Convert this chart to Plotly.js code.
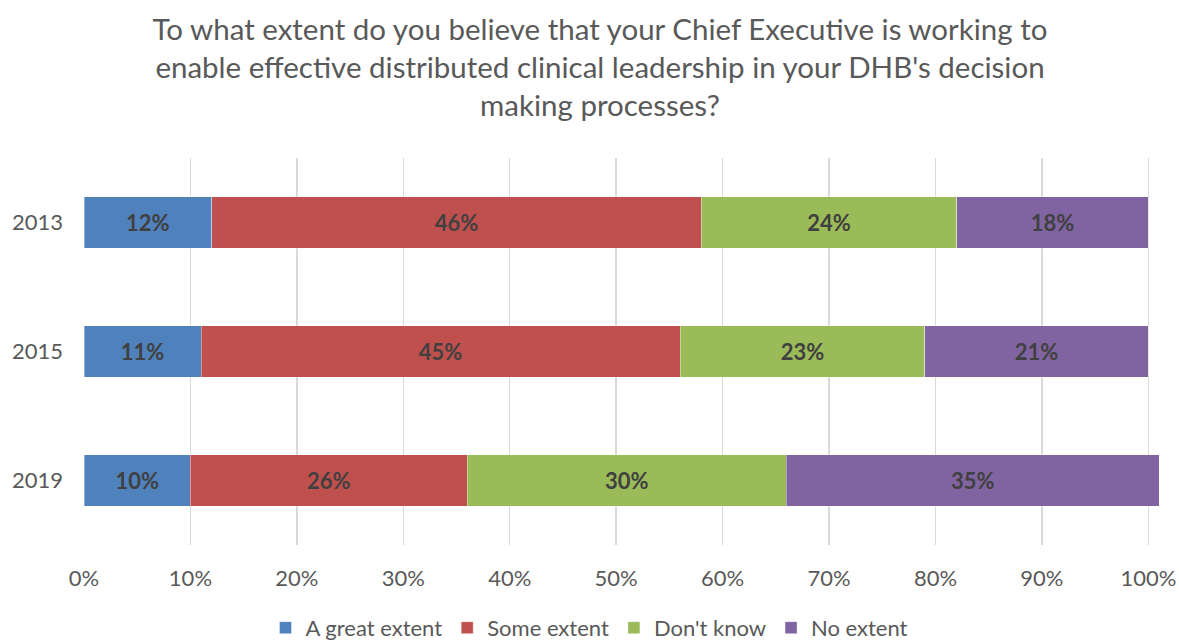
<!DOCTYPE html>
<html>
<head>
<meta charset="utf-8">
<script src="https://cdn.plot.ly/plotly-3.0.1.min.js"></script>
<style>html,body{margin:0;padding:0;background:#fff;}#chart{width:1179px;height:640px;}</style>
</head>
<body>
<div id="chart"></div>
<script>
const years = ['2013', '2015', '2019'];
const seriesNames = ['A great extent', 'Some extent', "Don't know", 'No extent'];
const greatExtent = [12, 11, 10];
const someExtent = [46, 45, 26];
const dontKnow = [24, 23, 30];
const noExtent = [18, 21, 35];
const xTickVals = [0, 10, 20, 30, 40, 50, 60, 70, 80, 90, 100];
const colors = ['#4F81BD', '#C0504D', '#9BBB59', '#8064A2'];

const FONT = "Lato, 'Open Sans', sans-serif";
const values = [greatExtent, someExtent, dontKnow, noExtent];

const traces = values.map((v, i) => ({
  type: 'bar',
  orientation: 'h',
  name: seriesNames[i],
  y: years,
  x: v,
  text: v.map(n => n + '%'),
  texttemplate: '<b>%{text}</b>',
  marker: {color: colors[i], line: {color: 'rgba(255,255,255,0.5)', width: 0.75}},
  textposition: 'inside',
  insidetextanchor: 'middle',
  textangle: 0,
  constraintext: 'none',
  textfont: {family: FONT, size: 22, color: '#404040'},
  hoverinfo: 'skip',
  cliponaxis: false
}));

const layout = {
  width: 1179,
  height: 640,
  barmode: 'stack',
  bargap: 0.6,
  paper_bgcolor: '#fff',
  plot_bgcolor: '#fff',
  margin: {l: 84, r: 20, t: 158, b: 95},
  title: {
    text: "To what extent do you believe that your Chief Executive is working to<br>enable effective distributed clinical leadership in your DHB's decision<br>making processes?",
    font: {family: FONT, size: 29.5, color: '#595959'},
    x: 600 / 1179,
    xanchor: 'center',
    xref: 'container',
    yref: 'container',
    y: 0.938,
    yanchor: 'top'
  },
  xaxis: {
    range: [0, 101],
    tickvals: xTickVals,
    ticktext: xTickVals.map(t => t + '%'),
    showgrid: true,
    gridcolor: '#d9d9d9',
    gridwidth: 1.5,
    zeroline: false,
    showline: false,
    ticks: '',
    ticklabelstandoff: 18,
    tickfont: {family: FONT, size: 22, color: '#595959'},
    fixedrange: true
  },
  yaxis: {
    type: 'category',
    categoryorder: 'array',
    categoryarray: years,
    autorange: 'reversed',
    showgrid: false,
    zeroline: false,
    showline: false,
    ticks: '',
    ticklabelstandoff: 20,
    tickfont: {family: FONT, size: 22, color: '#595959'},
    fixedrange: true
  },
  legend: {
    orientation: 'h',
    x: 0.5,
    xref: 'container',
    xanchor: 'center',
    yref: 'container',
    y: 0.019,
    yanchor: 'middle',
    font: {family: FONT, size: 22, color: '#595959'},
    traceorder: 'normal',
    itemwidth: 30
  },
  showlegend: true
};

Plotly.newPlot('chart', traces, layout, {displayModeBar: false, staticPlot: true});
</script>
</body>
</html>
